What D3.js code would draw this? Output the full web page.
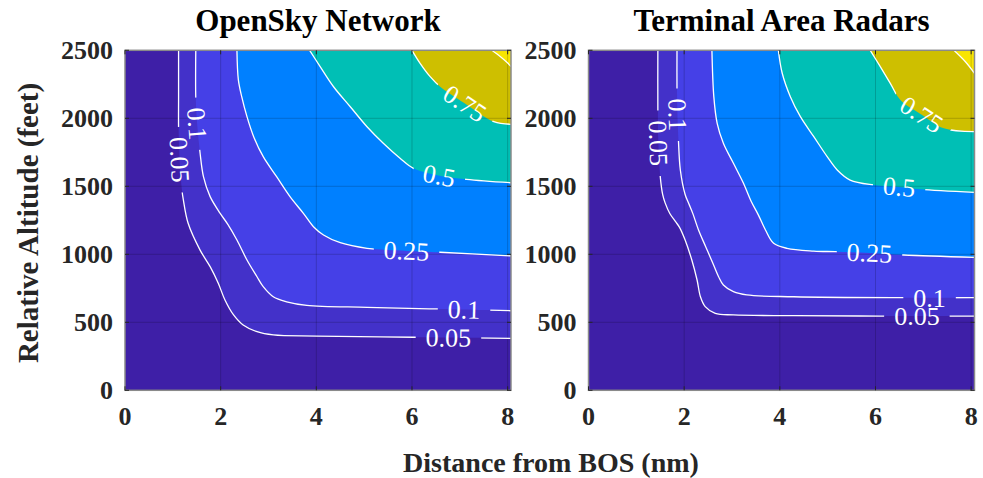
<!DOCTYPE html>
<html><head><meta charset="utf-8">
<script src="https://cdn.jsdelivr.net/npm/d3@7"></script>
<style>
body{margin:0;background:#fff}
svg text{font-family:"Liberation Serif","Times New Roman",serif}
</style>
</head><body>
<svg id="chart" width="983" height="478"></svg>
<script>
// ---------- data ----------
const panelTitles = ["OpenSky Network", "Terminal Area Radars"];
const xLabel = "Distance from BOS (nm)";
const yLabel = "Relative Altitude (feet)";
const xTicks = [0, 2, 4, 6, 8];
const yTicks = [0, 500, 1000, 1500, 2000, 2500];
const xMax = 8.07, yMax = 2500;
const levels = [0.05, 0.1, 0.25, 0.5, 0.75, 0.9];

// OpenSky Network contour lines [distance nm, altitude ft]
const os005 = [[1.12,2500],[1.12,2150],[1.12,1930],[1.14,1700],[1.19,1473],[1.22,1400],[1.32,1228],[1.57,1031],[1.78,909],[1.95,787],[2.09,664],[2.27,554],[2.47,480],[2.76,431],[3.10,407],[4.01,399],[6.03,390],[8.07,382]];
const os010 = [[1.48,2500],[1.48,2147],[1.51,1950],[1.57,1743],[1.64,1571],[1.78,1424],[1.99,1301],[2.15,1220],[2.34,1105],[2.55,958],[2.76,835],[2.89,762],[3.10,688],[3.38,651],[3.80,625],[5.06,610],[6.52,598],[8.07,585]];
const os025 = [[2.34,2500],[2.37,2282],[2.44,2159],[2.55,2012],[2.69,1865],[2.89,1718],[3.17,1571],[3.45,1424],[3.73,1301],[3.94,1203],[4.15,1142],[4.50,1085],[5.06,1044],[5.90,1025],[6.59,1015],[8.07,988]];
const os050 = [[3.86,2500],[4.08,2380],[4.36,2232],[4.71,2085],[5.06,1938],[5.40,1816],[5.75,1706],[6.03,1632],[6.55,1580],[7.14,1551],[8.07,1526]];
const os075 = [[6.00,2500],[6.17,2404],[6.38,2306],[6.59,2232],[7.10,2110],[7.71,1975],[8.07,1956]];
const os090 = [[7.67,2500],[7.85,2453],[7.99,2410],[8.07,2380]];

// Terminal Area Radars contour lines
const tar005 = [[1.45,2500],[1.45,2074],[1.46,1816],[1.50,1571],[1.55,1440],[1.60,1380],[1.70,1300],[1.82,1240],[1.90,1200],[2.02,1105],[2.16,958],[2.27,811],[2.34,688],[2.44,615],[2.65,566],[3.03,554],[4.29,549],[6.10,546],[8.07,546]];
const tar010 = [[1.85,2500],[1.85,2208],[1.86,2024],[1.88,1840],[1.92,1620],[2.02,1440],[2.10,1370],[2.18,1301],[2.30,1179],[2.45,1056],[2.60,934],[2.72,835],[2.82,774],[3.03,725],[3.31,701],[4.29,688],[6.59,681],[8.07,681]];
const tar025 = [[2.58,2500],[2.62,2159],[2.69,1963],[2.82,1816],[3.03,1669],[3.24,1522],[3.40,1390],[3.55,1290],[3.70,1179],[3.87,1081],[4.15,1044],[4.71,1024],[5.16,1019],[5.88,1010],[6.59,995],[8.07,978]];
const tar050 = [[3.97,2500],[4.05,2331],[4.22,2159],[4.43,2012],[4.71,1865],[4.99,1718],[5.20,1620],[5.47,1546],[5.96,1510],[6.50,1495],[6.94,1478],[8.07,1456]];
const tar075 = [[5.89,2500],[6.10,2380],[6.31,2257],[6.52,2134],[6.95,2030],[7.43,1926],[8.07,1902]];
const tar090 = [[7.64,2500],[7.88,2416],[8.07,2331]];

// contour labels: level, approximate position (nm, ft)
const osLabelLevel = [0.05, 0.1, 0.25, 0.1, 0.05, 0.5, 0.75];
const osLabelX     = [1.13, 1.49, 5.89, 7.09, 6.76, 6.57, 7.11];
const osLabelY     = [1693, 1958, 1039, 605, 399, 1576, 2113];
const tarLabelLevel = [0.05, 0.1, 0.25, 0.1, 0.05, 0.5, 0.75];
const tarLabelX     = [1.46, 1.86, 5.88, 7.13, 6.87, 6.50, 6.95];
const tarLabelY     = [1816, 2024, 1019, 690, 548, 1504, 2018];

// ---------- styles / layout ----------
const bandColors = ["#3E1FA7", "#4331C9", "#4540E7", "#0080FF", "#00BFB5", "#CEBF00", "#F9E500"];
const panelLeft = [125, 588.5];
const plotTop = 50.3, plotW = 386, plotH = 340;

const svg = d3.select("#chart");
const x = d3.scaleLinear().domain([0, xMax]).range([0, plotW]);
const y = d3.scaleLinear().domain([0, yMax]).range([plotH, 0]);
const lineGen = d3.line().x(d => x(d[0])).y(d => y(d[1])).curve(d3.curveCatmullRom.alpha(0.5));

const panels = [
  {lines: [os005, os010, os025, os050, os075, os090], lab: [osLabelLevel, osLabelX, osLabelY]},
  {lines: [tar005, tar010, tar025, tar050, tar075, tar090], lab: [tarLabelLevel, tarLabelX, tarLabelY]}
];

const defs = svg.append("defs");

panels.forEach((p, pi) => {
  const g = svg.append("g").attr("transform", `translate(${panelLeft[pi]},${plotTop})`);
  const clipId = "clip" + pi;
  defs.append("clipPath").attr("id", clipId).append("rect").attr("width", plotW).attr("height", plotH);
  const inner = g.append("g").attr("clip-path", `url(#${clipId})`);

  // filled bands
  inner.append("rect").attr("width", plotW).attr("height", plotH).attr("fill", bandColors[0]);
  p.lines.forEach((pts, i) => {
    inner.append("path")
      .attr("d", lineGen(pts) + `L${x(xMax)},${y(yMax)}Z`)
      .attr("fill", bandColors[i + 1]);
  });

  // grid
  inner.selectAll(".gx").data(xTicks).enter().append("line")
    .attr("x1", d => x(d)).attr("x2", d => x(d)).attr("y1", 0).attr("y2", plotH)
    .attr("stroke", "#000").attr("stroke-opacity", 0.18).attr("stroke-width", 1);
  inner.selectAll(".gy").data(yTicks).enter().append("line")
    .attr("y1", d => y(d)).attr("y2", d => y(d)).attr("x1", 0).attr("x2", plotW)
    .attr("stroke", "#000").attr("stroke-opacity", 0.18).attr("stroke-width", 1);

  // contour lines
  const linePaths = p.lines.map((pts, i) => inner.append("path")
      .attr("d", lineGen(pts)).attr("fill", "none")
      .attr("stroke", "#fff").attr("stroke-width", 1.3));

  const labG = inner.append("g");
  const [lv, lx, ly] = p.lab;
  const masks = levels.map((L, i) => {
    const m = defs.append("mask").attr("id", `m${pi}_${i}`).attr("maskUnits", "userSpaceOnUse")
      .attr("x", -10).attr("y", -10).attr("width", plotW + 20).attr("height", plotH + 20);
    m.append("rect").attr("x", -10).attr("y", -10).attr("width", plotW + 20).attr("height", plotH + 20).attr("fill", "#fff");
    return m;
  });

  lv.forEach((L, k) => {
    const li = levels.indexOf(L);
    const node = linePaths[li].node();
    const tl = node.getTotalLength();
    const tx = x(lx[k]), ty = y(ly[k]);
    let best = 0, bd = Infinity;
    for (let s = 0; s <= tl; s += 0.5) {
      const q = node.getPointAtLength(s);
      const d = (q.x - tx) ** 2 + (q.y - ty) ** 2;
      if (d < bd) { bd = d; best = s; }
    }
    const c = node.getPointAtLength(best);
    const a = node.getPointAtLength(Math.max(0, best - 8));
    const b = node.getPointAtLength(Math.min(tl, best + 8));
    let ang = Math.atan2(b.y - a.y, b.x - a.x) * 180 / Math.PI;
    if (ang > 100) ang -= 180;
    if (ang < -80) ang += 180;
    const t = labG.append("text")
      .attr("transform", `translate(${c.x},${c.y}) rotate(${ang})`)
      .attr("text-anchor", "middle").attr("dy", "0.34em")
      .attr("font-size", 26).attr("fill", "#fff").text(String(L));
    const w = t.node().getComputedTextLength();
    masks[li].append("rect")
      .attr("x", -(w / 2 + 10)).attr("y", -9).attr("width", w + 20).attr("height", 18)
      .attr("transform", `translate(${c.x},${c.y}) rotate(${ang})`).attr("fill", "#000");
  });
  linePaths.forEach((lp, i) => lp.attr("mask", `url(#m${pi}_${i})`));

  // box
  g.append("rect").attr("width", plotW).attr("height", plotH).attr("fill", "none")
    .attr("stroke", "#8a8a8a").attr("stroke-width", 1.5);

  // ticks (inward, all sides)
  const tk = g.append("g").attr("stroke", "#262626").attr("stroke-width", 1);
  xTicks.forEach(d => {
    tk.append("line").attr("x1", x(d)).attr("x2", x(d)).attr("y1", plotH).attr("y2", plotH - 4);
    tk.append("line").attr("x1", x(d)).attr("x2", x(d)).attr("y1", 0).attr("y2", 4);
  });
  yTicks.forEach(d => {
    tk.append("line").attr("y1", y(d)).attr("y2", y(d)).attr("x1", 0).attr("x2", 4);
    tk.append("line").attr("y1", y(d)).attr("y2", y(d)).attr("x1", plotW).attr("x2", plotW - 4);
  });

  // tick labels
  g.selectAll(".xt").data(xTicks).enter().append("text")
    .attr("x", d => x(d)).attr("y", plotH + 35).attr("text-anchor", "middle")
    .attr("font-size", 26).attr("font-weight", "bold").attr("fill", "#262626").text(d => d);
  g.selectAll(".yt").data(yTicks).enter().append("text")
    .attr("x", -12).attr("y", d => y(d)).attr("dy", "0.34em").attr("text-anchor", "end")
    .attr("font-size", 26).attr("font-weight", "bold").attr("fill", "#262626").text(d => d);

  // title
  g.append("text").attr("x", plotW / 2).attr("y", -19).attr("text-anchor", "middle")
    .attr("font-size", 31).attr("font-weight", "bold").attr("fill", "#000").text(panelTitles[pi]);
});

// axis labels
svg.append("text").attr("x", 551).attr("y", 472).attr("text-anchor", "middle")
  .attr("font-size", 28).attr("font-weight", "bold").attr("fill", "#262626").text(xLabel);
svg.append("text").attr("transform", "translate(38,223) rotate(-90)").attr("text-anchor", "middle")
  .attr("font-size", 29).attr("font-weight", "bold").attr("fill", "#262626").text(yLabel);
</script>
</body></html>
